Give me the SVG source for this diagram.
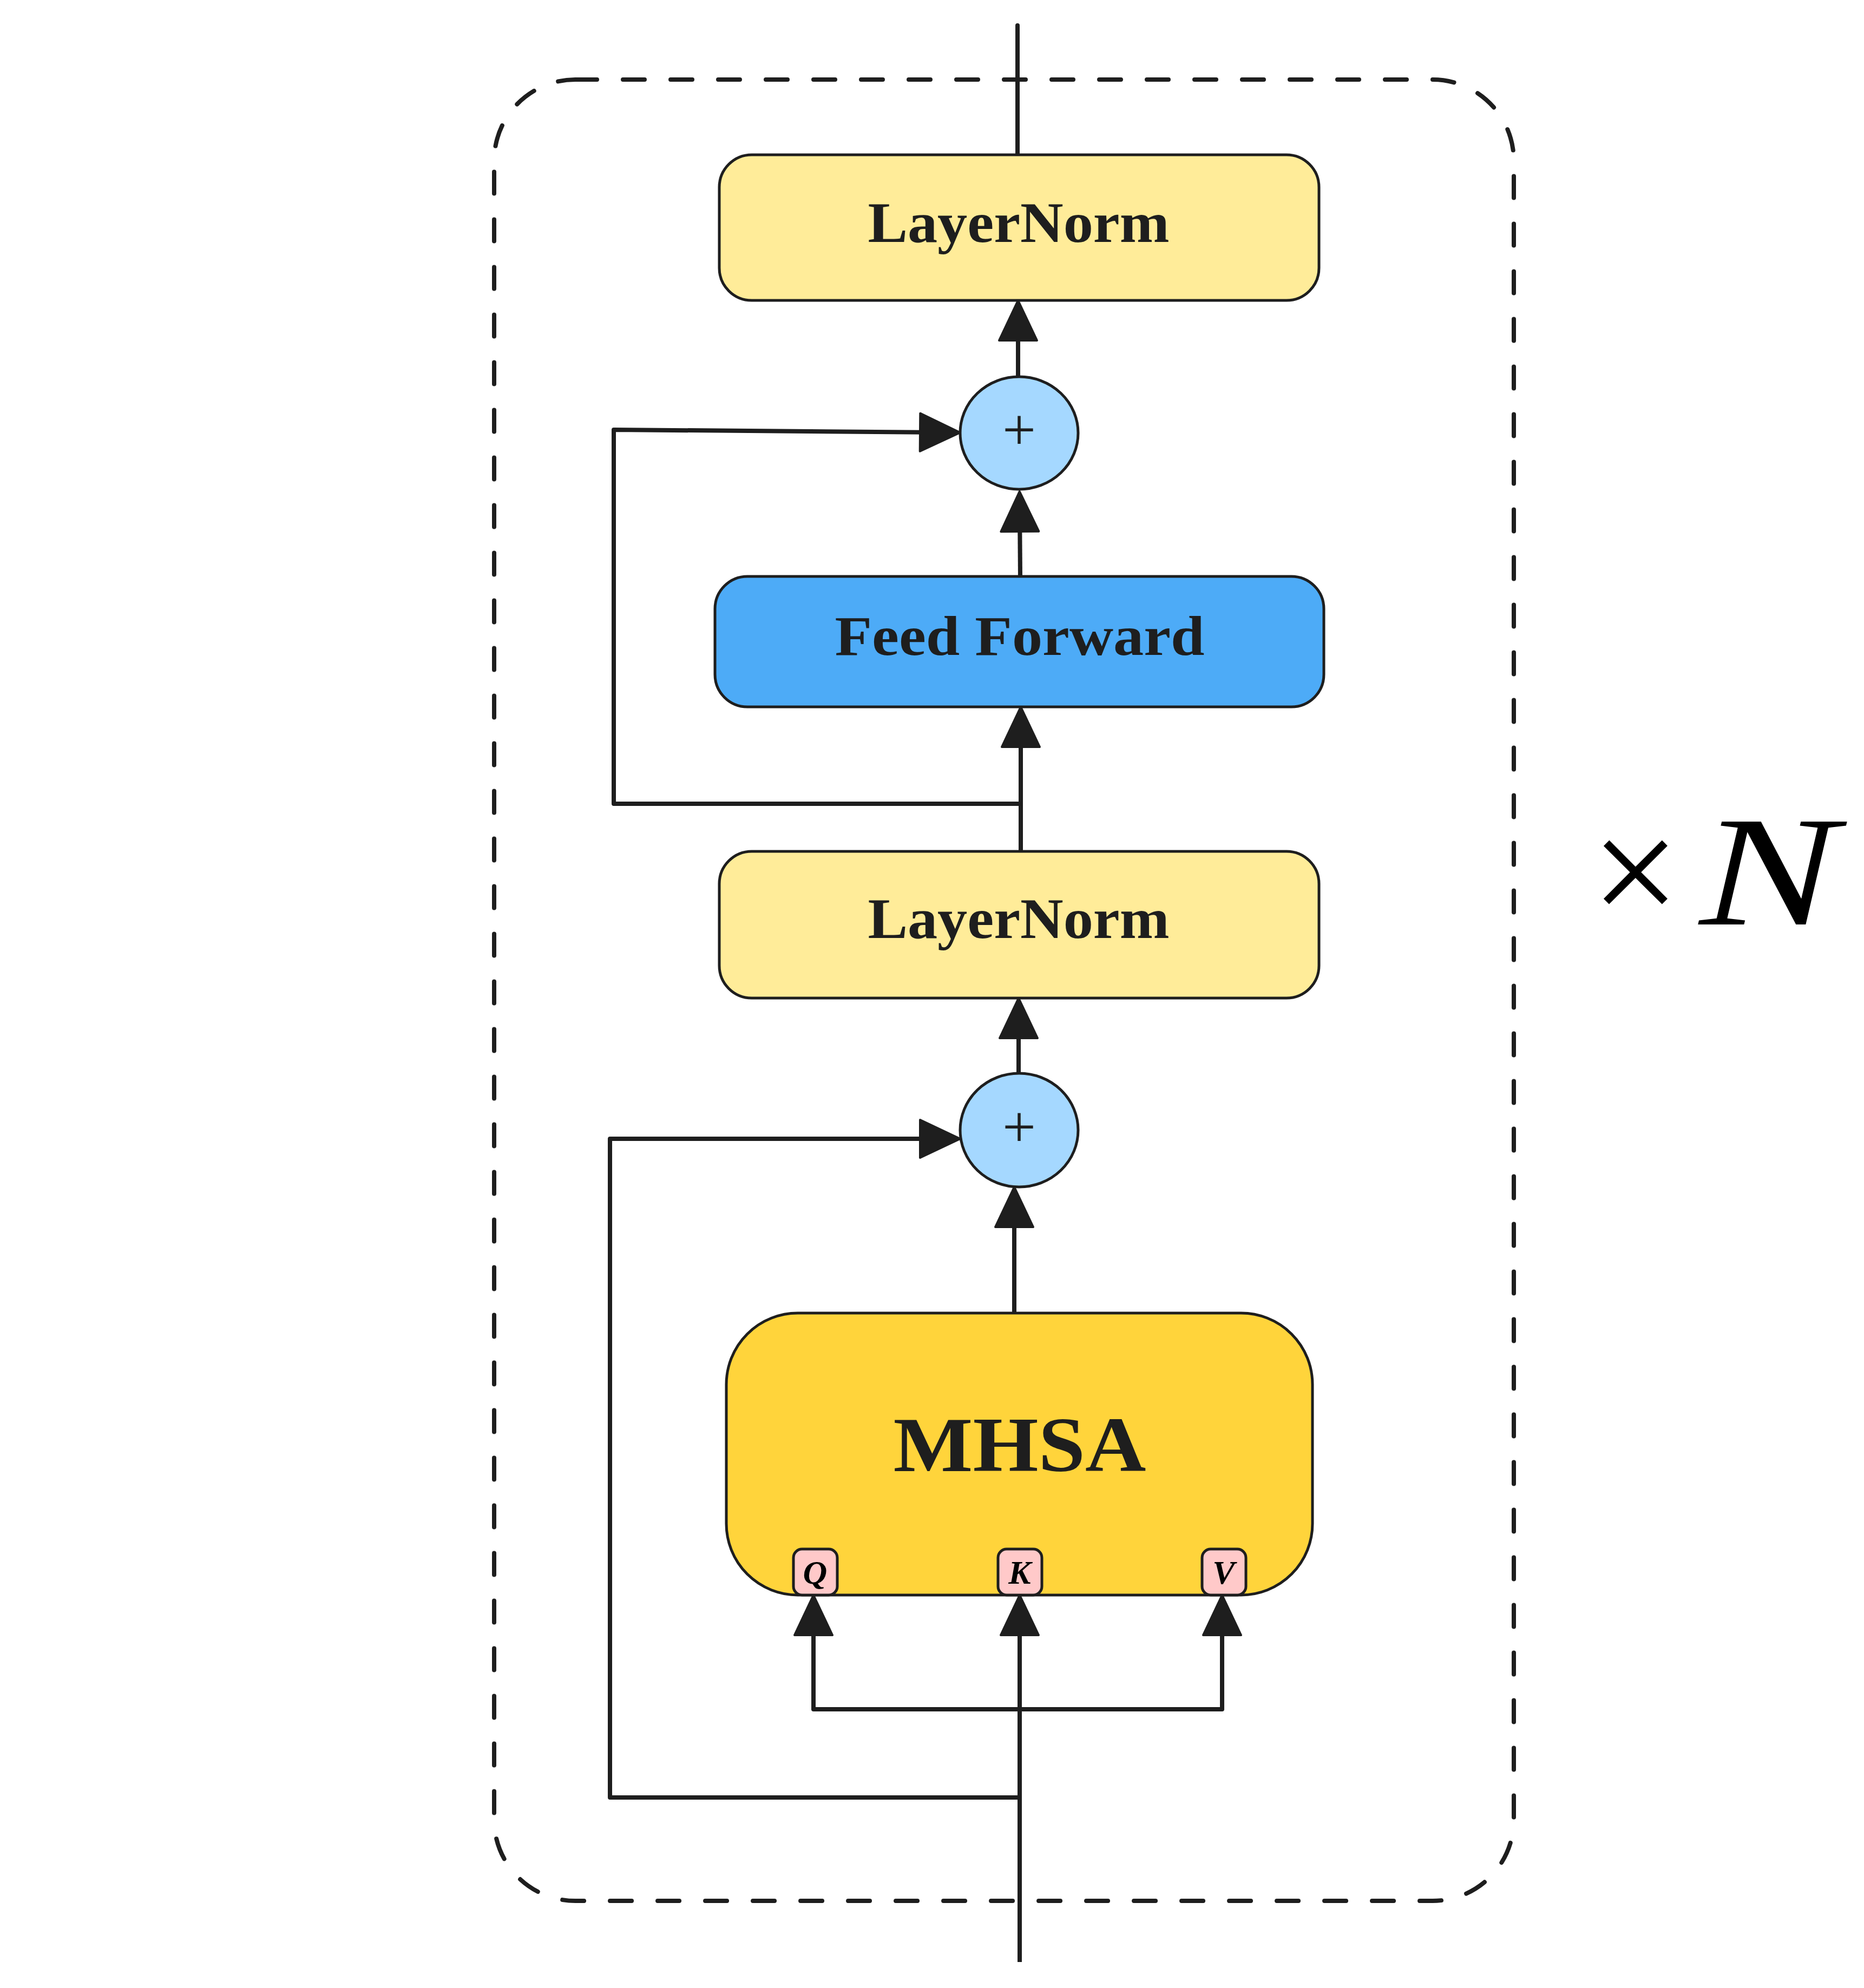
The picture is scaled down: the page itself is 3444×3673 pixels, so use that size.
<svg xmlns="http://www.w3.org/2000/svg" width="3444" height="3673" viewBox="0 0 3444 3673">
<style>
.bg{fill:#ffffff}
.frame{fill:none;stroke:#1e1e1e;stroke-width:8;stroke-dasharray:40 48;stroke-linecap:round}
.box{stroke:#1e1e1e;stroke-width:5}
.ln{fill:#ffec99}
.ff{fill:#4dabf7}
.add{fill:#a5d8ff}
.mhsa{fill:#ffd43b}
.port{fill:#ffc9c9;stroke:#1e1e1e;stroke-width:5}
.lbl{font-family:"Liberation Serif","Times New Roman",serif;font-weight:bold;fill:#1e1e1e;text-anchor:middle}
.plus{font-family:"Liberation Serif","Times New Roman",serif;fill:#1e1e1e;text-anchor:middle;font-size:110px}
.pl{font-family:"Liberation Serif","Times New Roman",serif;font-style:italic;font-weight:bold;fill:#000;text-anchor:middle;font-size:62px}
.wire{fill:none;stroke:#1e1e1e;stroke-width:8;stroke-linejoin:round;stroke-linecap:round}
.arr{fill:none;stroke:#1e1e1e;stroke-width:8;stroke-linejoin:round;stroke-linecap:butt;marker-end:url(#ah)}
.xn{font-family:"Liberation Serif","Times New Roman",serif;fill:#000;font-size:290px}
</style>
<defs>
<marker id="ah" viewBox="-4 -42 84 84" refX="44" refY="0" markerWidth="84" markerHeight="84" markerUnits="userSpaceOnUse" orient="auto">
<path d="M0,-35 L74,0 L0,35 Z" fill="#1e1e1e" stroke="#1e1e1e" stroke-width="4" stroke-linejoin="round"/>
</marker>
</defs>
<rect class="bg" x="0" y="0" width="3444" height="3673"/>
<g id="frame">
<rect class="frame" x="913" y="147" width="1884" height="3365" rx="150" ry="150"/>
</g>
<g id="connectors">
<path class="wire" d="M1880,286 L1880,47"/>
<path class="arr" d="M1881,696 L1881,585"/>
<path class="arr" d="M1885,1065 L1884,938"/>
<path class="arr" d="M1886,1572 L1886,1336"/>
<path class="arr" d="M1886,1485 L1134,1485 L1134,794 L1744,799"/>
<path class="arr" d="M1882,1983 L1882,1874"/>
<path class="arr" d="M1874,2426 L1874,2223"/>
<path class="arr" d="M1884,3321 L1127,3321 L1127,2104 L1744,2104"/>
<path class="arr" d="M1884,3625 L1884,2977"/>
<path class="wire" d="M1503,3158 L2258,3158"/>
<path class="arr" d="M1503,3158 L1503,2977"/>
<path class="arr" d="M2258,3158 L2258,2977"/>
</g>
<g id="layernorm-top">
<rect class="box ln" x="1329" y="286" width="1108" height="269" rx="60" ry="60"/>
<text class="lbl" x="1882" y="447" font-size="106" textLength="557" lengthAdjust="spacingAndGlyphs">LayerNorm</text>
</g>
<g id="add-top">
<ellipse class="box add" cx="1883" cy="800" rx="109" ry="104"/>
<text class="plus" x="1883" y="831">+</text>
</g>
<g id="feed-forward">
<rect class="box ff" x="1321" y="1065" width="1125" height="241" rx="60" ry="60"/>
<text class="lbl" x="1884" y="1210" font-size="104" textLength="683" lengthAdjust="spacingAndGlyphs">Feed Forward</text>
</g>
<g id="layernorm-bottom">
<rect class="box ln" x="1329" y="1573" width="1108" height="271" rx="60" ry="60"/>
<text class="lbl" x="1882" y="1733" font-size="106" textLength="557" lengthAdjust="spacingAndGlyphs">LayerNorm</text>
</g>
<g id="add-bottom">
<ellipse class="box add" cx="1883" cy="2088" rx="109" ry="105"/>
<text class="plus" x="1883" y="2119">+</text>
</g>
<g id="mhsa">
<rect class="box mhsa" x="1342" y="2426" width="1083" height="521" rx="132" ry="132"/>
<text class="lbl" x="1884" y="2718" font-size="144" textLength="467" lengthAdjust="spacingAndGlyphs">MHSA</text>
</g>
<g id="port-q">
<rect class="port" x="1466" y="2862" width="81" height="85" rx="16" ry="16"/>
<text class="pl" x="1506" y="2926">Q</text>
</g>
<g id="port-k">
<rect class="port" x="1844" y="2862" width="81" height="85" rx="16" ry="16"/>
<text class="pl" x="1884" y="2926">K</text>
</g>
<g id="port-v">
<rect class="port" x="2221" y="2862" width="81" height="85" rx="16" ry="16"/>
<text class="pl" x="2261" y="2926">V</text>
</g>
<g id="times-n">
<text class="xn" x="2940" y="1708">×</text>
<text class="xn" x="3140" y="1708" font-style="italic" textLength="255" lengthAdjust="spacingAndGlyphs">N</text>
</g>
</svg>
